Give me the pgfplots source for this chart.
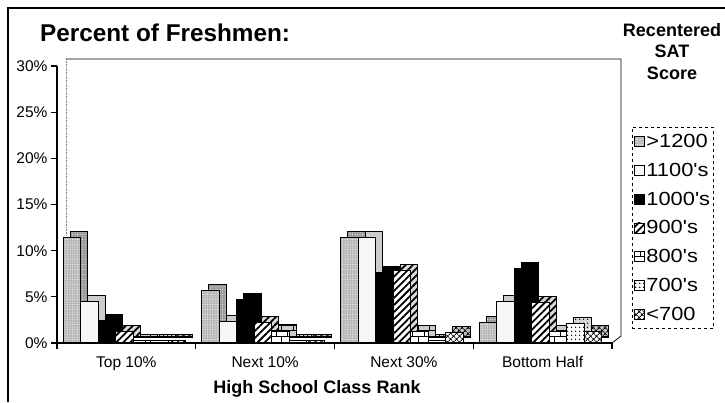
\documentclass[border=0pt]{standalone}
\usepackage{pgfplots}
\pgfplotsset{compat=1.18}
\usepackage{pgfplotstable}
\usepackage{fontspec}
\setmainfont{Liberation Sans}
\newfontfamily\legfont[FakeStretch=1.15]{Liberation Sans}
\usetikzlibrary{patterns,patterns.meta}

\pgfplotstableread{
x  a     b     c    d    e    f    g
0  11.4  4.5   2.4  1.2  0.3  0.3  0.3
1  5.7   2.3   4.7  2.2  1.3  0.3  0.3
2  11.4  11.4  7.6  7.9  1.2  0.3  1.1
3  2.2   4.5   8.1  4.4  1.2  2.1  1.2
}\data

\pgfplotsset{
  bo/.style={draw=black, line width=1.1pt},
  s1/.style={bo, fill=gray!55, postaction={pattern={Dots[distance=2.5pt,radius=0.5pt]}, pattern color=white}},
  s2/.style={bo, fill=gray!6},
  s3/.style={bo, fill=black},
  s4/.style={bo, fill=white, postaction={pattern={Lines[angle=45,distance=5pt,line width=1.8pt]}}},
  s5/.style={bo, fill=white, postaction={pattern=bricks}},
  s6/.style={bo, fill=white, postaction={pattern={Dots[distance=4pt,radius=0.9pt]}}},
  s7/.style={bo, fill=white, postaction={pattern={Hatch[angle=45,distance=4pt,line width=0.9pt]}}},
  d1/.style={bo, fill=gray!80, postaction={pattern={Dots[distance=2.5pt,radius=0.5pt]}, pattern color=white}},
  d2/.style={bo, fill=gray!40},
  d3/.style={bo, fill=black},
  d4/.style={bo, fill=gray!30, postaction={pattern={Lines[angle=45,distance=5pt,line width=1.8pt]}}},
  d5/.style={bo, fill=gray!40, postaction={pattern=bricks}},
  d6/.style={bo, fill=gray!30, postaction={pattern={Dots[distance=4pt,radius=0.9pt]}}},
  d7/.style={bo, fill=gray!50, postaction={pattern={Hatch[angle=45,distance=4pt,line width=0.9pt]}}},
}

\begin{document}
\begin{tikzpicture}
\useasboundingbox (0pt,0pt) rectangle (725pt,402pt);
% outer frame
\draw[line width=1.2pt] (8pt,0pt) -- (8pt,394pt) -- (725pt,394pt);
% back wall
\draw[line width=0.6pt, gray, densely dotted] (66pt,343pt) -- (66pt,66pt);
\draw[line width=0.8pt] (66pt,343pt) -- (621pt,343pt) -- (621pt,66pt) -- (612pt,59pt);
% titles
\node[anchor=base west, inner sep=0pt, font=\fontsize{24.3}{28}\selectfont\bfseries] at (40pt,360pt) {Percent of Freshmen:};
\node[anchor=north, inner sep=0pt, align=center, font=\fontsize{18}{21.5}\selectfont\bfseries] at (672pt,379pt) {Recentered\\SAT\\Score};

\begin{axis}[
  at={(57pt,59pt)}, anchor=south west,
  scale only axis, width=555pt, height=277pt,
  ymin=0, ymax=30, xmin=-0.5, xmax=3.5,
  ybar, bar width=17.5pt,
  clip=false,
  axis x line*=bottom, axis y line*=left,
  axis line style={line width=1.1pt},
  ytick={0,5,...,30},
  yticklabel={\pgfmathprintnumber{\tick}\%},
  /pgf/number format/assume math mode=true,
  xtick={0,1,2,3},
  xticklabels={Top 10\%, Next 10\%, Next 30\%, Bottom Half},
  minor xtick={-0.5,0.5,1.5,2.5,3.5},
  tick align=outside,
  major tick length=6pt, minor tick length=6pt,
  major x tick style={draw=none},
  tick style={line width=1.1pt, black},
  ticklabel style={font=\fontsize{15.5}{18}\selectfont},
  xticklabel style={yshift=-4pt},
  legend style={at={(1.036,0.78)}, anchor=north west, draw=black, dashed, line width=0.7pt,
    font=\legfont\fontsize{19}{22}\selectfont, row sep=11pt, inner xsep=2pt, inner ysep=5.5pt,
    nodes={inner sep=1.5pt},
    /tikz/every even column/.append style={column sep=2.5pt}},
  legend cell align=left,
  legend image code/.code={\draw[#1, solid, line width=0.6pt] (0pt,-5pt) rectangle (10pt,5pt);},
]
\addplot[d1, forget plot, bar shift=-52.5pt+5pt, yshift=6pt] table[x=x,y=a]{\data};
\addplot[s1, bar shift=-52.5pt-2pt] table[x=x,y=a]{\data};
\addplot[d2, forget plot, bar shift=-35pt+5pt, yshift=6pt] table[x=x,y=b]{\data};
\addplot[s2, bar shift=-35pt-2pt] table[x=x,y=b]{\data};
\addplot[d3, forget plot, bar shift=-17.5pt+5pt, yshift=6pt] table[x=x,y=c]{\data};
\addplot[s3, bar shift=-17.5pt-2pt] table[x=x,y=c]{\data};
\addplot[d4, forget plot, bar shift=0pt+5pt, yshift=6pt] table[x=x,y=d]{\data};
\addplot[s4, bar shift=0pt-2pt] table[x=x,y=d]{\data};
\addplot[d5, forget plot, bar shift=17.5pt+5pt, yshift=6pt] table[x=x,y=e]{\data};
\addplot[s5, bar shift=17.5pt-2pt] table[x=x,y=e]{\data};
\addplot[d6, forget plot, bar shift=35pt+5pt, yshift=6pt] table[x=x,y=f]{\data};
\addplot[s6, bar shift=35pt-2pt] table[x=x,y=f]{\data};
\addplot[d7, forget plot, bar shift=52.5pt+5pt, yshift=6pt] table[x=x,y=g]{\data};
\addplot[s7, bar shift=52.5pt-2pt] table[x=x,y=g]{\data};
\legend{>1200,1100's,1000's,900's,800's,700's,<700}
\end{axis}
\node[anchor=base, inner sep=0pt, font=\fontsize{18}{21}\selectfont\bfseries] at (317pt,9pt) {High School Class Rank};
\end{tikzpicture}
\end{document}
